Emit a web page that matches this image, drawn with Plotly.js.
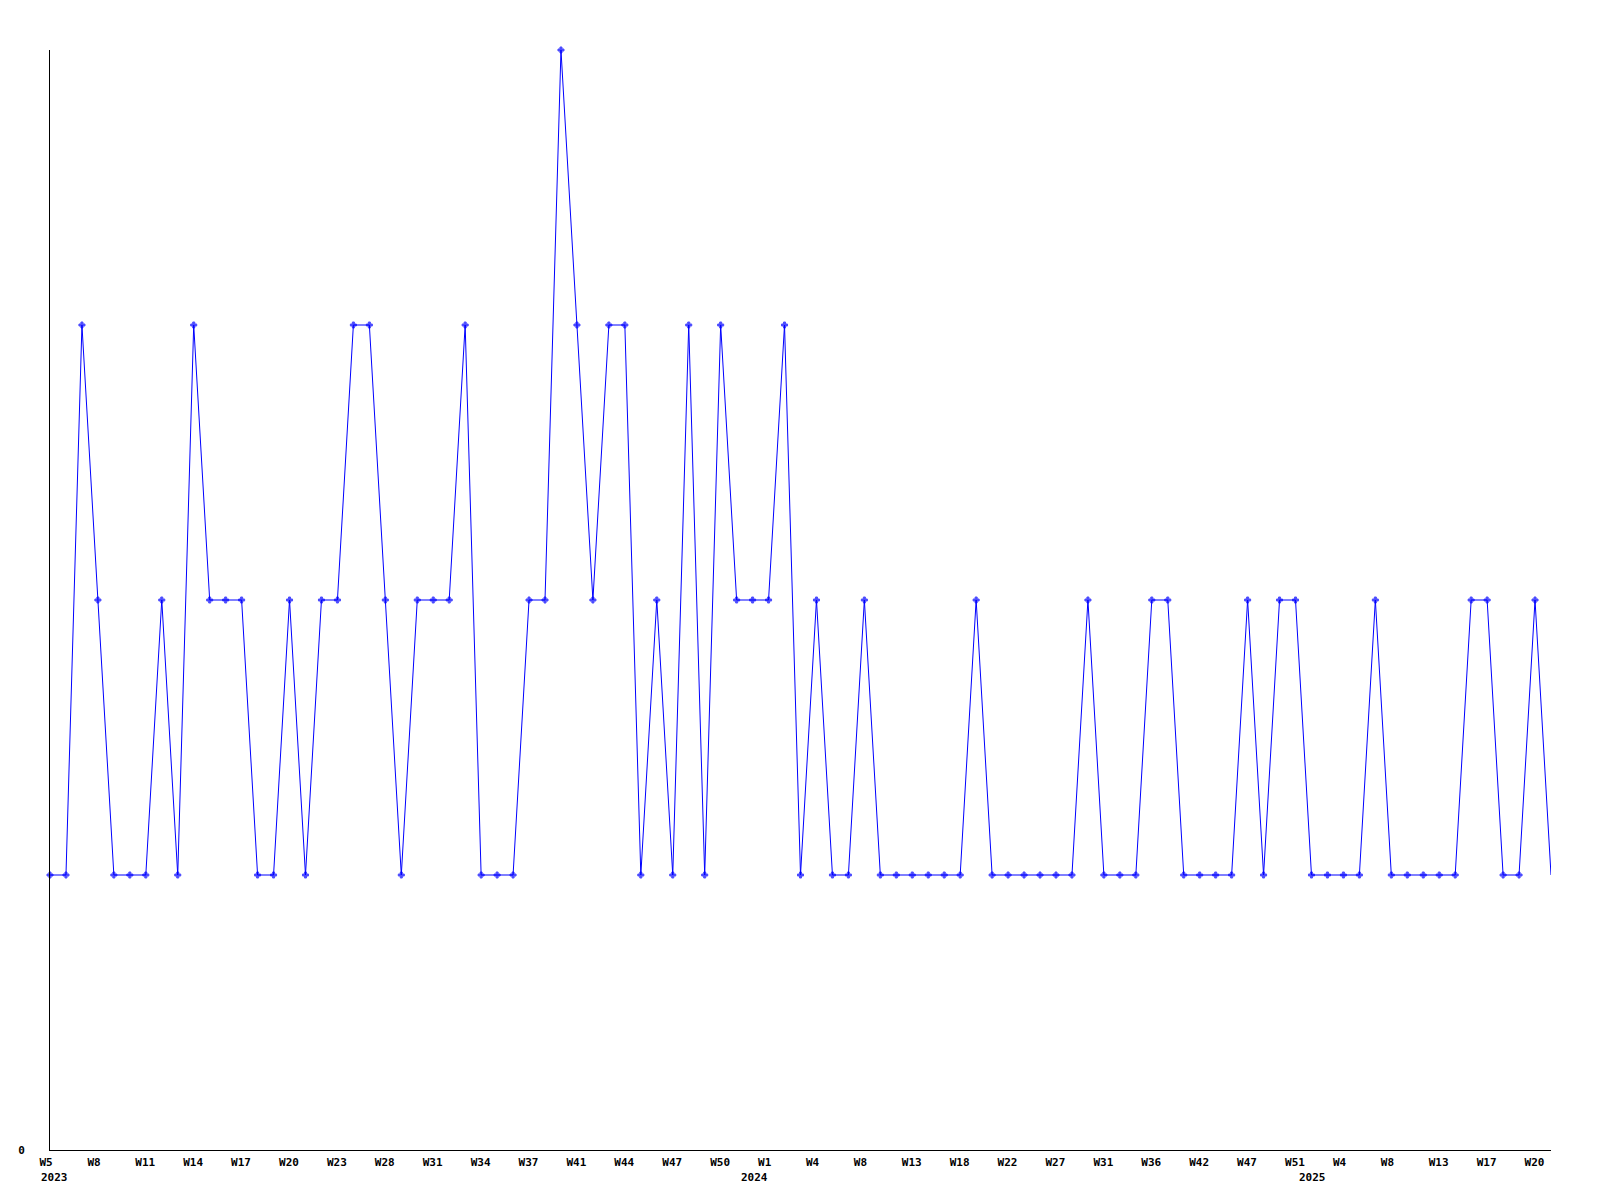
<!DOCTYPE html>
<html>
<head>
<meta charset="utf-8">
<script src="https://cdn.plot.ly/plotly-3.0.1.min.js"></script>
<style>html,body{margin:0;padding:0;background:#fff;}#chart{width:1600px;height:1200px;}</style>
</head>
<body>
<div id="chart"></div>
<script>
// weekly counts (one point per reported week)
const values = [
  1,1,3,2,1,1,1,2,1,3,
  2,2,2,1,1,2,1,2,2,3,
  3,2,1,2,2,2,3,1,1,1,
  2,2,4,3,2,3,3,1,2,1,
  3,1,3,2,2,2,3,1,2,1,
  1,2,1,1,1,1,1,1,2,1,
  1,1,1,1,1,2,1,1,1,2,
  2,1,1,1,1,2,1,2,2,1,
  1,1,1,2,1,1,1,1,1,2,
  2,1,1,2,1
];
// labelled positions (every third point) and their week labels
const tickPositions = [0,3,6,9,12,15,18,21,24,27,30,33,36,39,42,45,48,51,54,57,60,63,66,69,72,75,78,81,84,87,90,93];
const tickLabels = ["W5","W8","W11","W14","W17","W20","W23","W28","W31","W34","W37","W41","W44","W47","W50","W1","W4","W8","W13","W18","W22","W27","W31","W36","W42","W47","W51","W4","W8","W13","W17","W20"];
// year labels and the point where each year starts
const yearLabels = ["2023","2024","2025"];
const yearPositions = [0,45,80];

const xs = values.map((v, i) => i);
const markerSizes = values.map((v, i) => i === values.length - 1 ? 0 : 5);

const fam = "'DejaVu Sans Mono', 'Liberation Mono', monospace";
const tickFont = {family: fam, size: 11, color: '#000', weight: 'bold'};

const annotations = yearLabels.map((t, i) => ({
  text: t,
  x: yearPositions[i],
  xref: 'x',
  y: 0,
  yref: 'paper',
  yanchor: 'top',
  xanchor: i === 0 ? 'left' : 'right',
  xshift: i === 0 ? -11 : 1,
  yshift: -19,
  showarrow: false,
  font: tickFont
}));

Plotly.newPlot('chart', [{
  type: 'scatter',
  mode: 'lines+markers',
  x: xs,
  y: values,
  line: {color: '#0000ff', width: 1},
  marker: {color: '#0000ff', symbol: 'cross', size: markerSizes, line: {width: 1, color: '#0000ff'}},
  cliponaxis: false,
  hoverinfo: 'skip'
}], {
  width: 1600,
  height: 1200,
  margin: {l: 50, r: 49, t: 50, b: 50, pad: 0},
  paper_bgcolor: '#fff',
  plot_bgcolor: '#fff',
  showlegend: false,
  font: {family: fam, size: 11, color: '#000'},
  annotations: annotations,
  xaxis: {
    range: [0, values.length - 1],
    tickmode: 'array',
    tickvals: tickPositions,
    ticktext: tickLabels,
    ticks: '',
    ticklabelposition: 'outside right',
    ticklabelshift: -11,
    ticklabelstandoff: 2,
    showline: true, linecolor: '#000', linewidth: 1,
    showgrid: false, zeroline: false,
    tickfont: tickFont,
    fixedrange: true
  },
  yaxis: {
    range: [0, 4],
    tickmode: 'array',
    tickvals: [0],
    ticktext: ['0'],
    ticks: '',
    ticklabelstandoff: 22,
    showline: true, linecolor: '#000', linewidth: 1,
    showgrid: false, zeroline: false,
    tickfont: tickFont,
    fixedrange: true
  }
}, {staticPlot: true});
</script>
</body>
</html>
